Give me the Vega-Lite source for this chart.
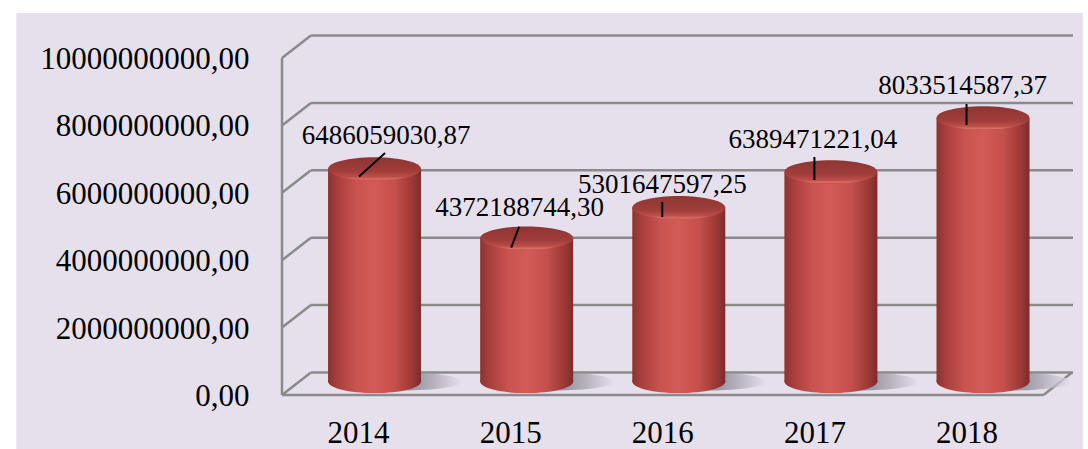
{
  "$schema": "https://vega.github.io/schema/vega-lite/v6.json",
  "width": 801,
  "height": 359,
  "autosize": {"type": "none"},
  "padding": {"left": 277, "top": 36, "right": 10, "bottom": 54},
  "background": "#ffffff",
  "config": {
    "view": {"stroke": null},
    "font": "Liberation Serif",
    "locale": {"number": {"decimal": ",", "thousands": ".", "grouping": [3], "currency": ["", " €"]}}
  },
  "datasets": {
    "bars": [
      {"year": 2014, "v": 6486059030.87},
      {"year": 2015, "v": 4372188744.30},
      {"year": 2016, "v": 5301647597.25},
      {"year": 2017, "v": 6389471221.04},
      {"year": 2018, "v": 8033514587.37}
    ],
    "ticks": [{"v": 0}, {"v": 2000000000}, {"v": 4000000000}, {"v": 6000000000}, {"v": 8000000000}, {"v": 10000000000}]
  },
  "resolve": {"scale": {"y": "independent"}},
  "layer": [
    {
      "data": {"name": "ticks"},
      "layer": [
        {
          "transform": [{"filter": "datum.v == 0"}],
          "mark": {"type": "rect", "fill": "#E6E0EC"},
          "encoding": {
            "x": {"datum": 2011.7537, "type": "quantitative", "scale": {"domain": [2013.5, 2018.7], "nice": false, "zero": false}},
            "x2": {"datum": 2018.7649},
            "y": {"datum": -1602400000, "type": "quantitative", "scale": {"domain": [0, 10653000000], "nice": false, "zero": false}},
            "y2": {"datum": 11335600000}
          }
        },
        {
          "mark": {"type": "rule", "stroke": "#8a8a8a", "strokeWidth": 2.5, "yOffset": -22.5},
          "encoding": {
            "x": {"datum": 2013.69, "type": "quantitative"},
            "x2": {"datum": 2018.7},
            "y": {"field": "v", "type": "quantitative", "scale": {"domain": [0, 10653000000], "nice": false, "zero": false},
              "axis": {"values": [0, 2000000000, 4000000000, 6000000000, 8000000000, 10000000000], "format": ".2f", "title": null, "domain": false, "ticks": false, "tickSize": 0, "grid": false, "labelFont": "Liberation Serif", "labelFontSize": 31, "labelColor": "#000000", "labelPadding": 28, "labelBaseline": "middle", "labelLimit": 0, "labelOffset": 1.5, "zindex": 1}}
          }
        },
        {
          "mark": {"type": "rule", "stroke": "#8a8a8a", "strokeWidth": 2.5, "y2Offset": -22.5},
          "encoding": {
            "x": {"datum": 2013.5, "type": "quantitative"},
            "x2": {"datum": 2013.69},
            "y": {"field": "v", "type": "quantitative", "scale": {"domain": [0, 10653000000], "nice": false, "zero": false}},
            "y2": {"field": "v"}
          }
        },
        {
          "transform": [{"filter": "datum.v == 10000000000"}],
          "mark": {"type": "rule", "stroke": "#8a8a8a", "strokeWidth": 2.5},
          "encoding": {
            "x": {"datum": 2013.5, "type": "quantitative"},
            "y": {"field": "v", "type": "quantitative", "scale": {"domain": [0, 10653000000], "nice": false, "zero": false}},
            "y2": {"datum": 0}
          }
        },
        {
          "transform": [{"filter": "datum.v == 0"}],
          "mark": {"type": "rule", "stroke": "#8a8a8a", "strokeWidth": 2.5},
          "encoding": {
            "x": {"datum": 2013.5, "type": "quantitative"},
            "x2": {"datum": 2018.506},
            "y": {"field": "v", "type": "quantitative", "scale": {"domain": [0, 10653000000], "nice": false, "zero": false}}
          }
        },
        {
          "transform": [{"filter": "datum.v == 0"}],
          "mark": {"type": "rule", "stroke": "#8a8a8a", "strokeWidth": 2.5, "y2Offset": -22.5},
          "encoding": {
            "x": {"datum": 2018.506, "type": "quantitative"},
            "x2": {"datum": 2018.6935},
            "y": {"field": "v", "type": "quantitative", "scale": {"domain": [0, 10653000000], "nice": false, "zero": false}},
            "y2": {"field": "v"}
          }
        }
      ]
    },
    {
      "data": {"name": "bars"},
      "layer": [
        {
          "mark": {"type": "point", "shape": "M-1,0A1,0.15,0,1,0,1,0A1,0.15,0,1,0,-1,0Z", "size": 14400, "filled": true, "opacity": 0.75, "strokeWidth": 0, "xOffset": 44,
            "fill": {"gradient": "radial", "x1": 0.5, "y1": 0.5, "r1": 0, "x2": 0.5, "y2": 0.5, "r2": 0.5, "stops": [{"offset": 0, "color": "#6e6a74"}, {"offset": 0.5, "color": "#a29eaa"}, {"offset": 1, "color": "#e6e0ec"}]}},
          "encoding": {
            "x": {"field": "year", "type": "quantitative"},
            "y": {"datum": 0, "type": "quantitative", "scale": {"domain": [-411600000, 10533400000], "nice": false, "zero": false}, "axis": null}
          }
        },
        {
          "mark": {"type": "point", "shape": "M-1,0A1,0.25,0,1,0,1,0A1,0.25,0,1,0,-1,0Z", "size": 8649, "filled": true, "opacity": 1, "strokeWidth": 0, "xOffset": 16.5,
            "fill": {"gradient": "linear", "x1": 0, "y1": 0, "x2": 1, "y2": 0, "stops": [{"offset": 0, "color": "#8a3331"}, {"offset": 0.1, "color": "#a83f3c"}, {"offset": 0.3, "color": "#c9534f"}, {"offset": 0.5, "color": "#d35b56"}, {"offset": 0.72, "color": "#c44f4b"}, {"offset": 0.9, "color": "#9d3936"}, {"offset": 1, "color": "#7d2c2a"}]}},
          "encoding": {
            "x": {"field": "year", "type": "quantitative"},
            "y": {"datum": 0, "type": "quantitative", "scale": {"domain": [-411600000, 10533400000], "nice": false, "zero": false}, "axis": null}
          }
        },
        {
          "mark": {"type": "bar", "width": 93, "xOffset": 16.5,
            "fill": {"gradient": "linear", "x1": 0, "y1": 0, "x2": 1, "y2": 0, "stops": [{"offset": 0, "color": "#8a3331"}, {"offset": 0.1, "color": "#a83f3c"}, {"offset": 0.3, "color": "#c9534f"}, {"offset": 0.5, "color": "#d35b56"}, {"offset": 0.72, "color": "#c44f4b"}, {"offset": 0.9, "color": "#9d3936"}, {"offset": 1, "color": "#7d2c2a"}]}},
          "encoding": {
            "x": {"field": "year", "type": "quantitative",
              "axis": {"values": [2014, 2015, 2016, 2017, 2018], "format": "d", "title": null, "domain": false, "ticks": false, "tickSize": 0, "grid": false, "labelFont": "Liberation Serif", "labelFontSize": 31, "labelColor": "#000000", "labelPadding": 23.5, "labelLimit": 0, "zindex": 1}},
            "y": {"field": "v", "type": "quantitative", "scale": {"domain": [-411600000, 10533400000], "nice": false, "zero": false}, "axis": null},
            "y2": {"datum": 0}
          }
        },
        {
          "mark": {"type": "point", "shape": "M-1,0A1,0.25,0,1,0,1,0A1,0.25,0,1,0,-1,0Z", "size": 8649, "filled": true, "opacity": 1, "strokeWidth": 0, "xOffset": 16.5,
            "fill": {"gradient": "linear", "x1": 0, "y1": 0, "x2": 0, "y2": 1, "stops": [{"offset": 0, "color": "#8d3634"}, {"offset": 0.6, "color": "#a03d3a"}, {"offset": 0.85, "color": "#bd4e49"}, {"offset": 0.95, "color": "#d86f69"}, {"offset": 1, "color": "#c4524d"}]}},
          "encoding": {
            "x": {"field": "year", "type": "quantitative"},
            "y": {"field": "v", "type": "quantitative", "scale": {"domain": [-411600000, 10533400000], "nice": false, "zero": false}, "axis": null}
          }
        }
      ]
    },
    {
      "data": {"name": "bars"},
      "layer": [
        {
          "transform": [{"filter": "datum.year == 2014"}],
          "mark": {"type": "text", "font": "Liberation Serif", "fontSize": 27, "color": "#000000", "baseline": "middle", "align": "center", "dx": 28, "dy": -40},
          "encoding": {
            "x": {"field": "year", "type": "quantitative"},
            "y": {"field": "v", "type": "quantitative", "scale": {"domain": [0, 10653000000], "nice": false, "zero": false}, "axis": null},
            "text": {"field": "v", "type": "quantitative", "format": ".2f"}
          }
        },
        {
          "transform": [{"filter": "datum.year == 2015"}],
          "mark": {"type": "text", "font": "Liberation Serif", "fontSize": 27, "color": "#000000", "baseline": "middle", "align": "center", "dx": 9.5, "dy": -40},
          "encoding": {
            "x": {"field": "year", "type": "quantitative"},
            "y": {"field": "v", "type": "quantitative", "scale": {"domain": [0, 10653000000], "nice": false, "zero": false}, "axis": null},
            "text": {"field": "v", "type": "quantitative", "format": ".2f"}
          }
        },
        {
          "transform": [{"filter": "datum.year == 2016"}],
          "mark": {"type": "text", "font": "Liberation Serif", "fontSize": 27, "color": "#000000", "baseline": "middle", "align": "center", "dx": 0, "dy": -31.5},
          "encoding": {
            "x": {"field": "year", "type": "quantitative"},
            "y": {"field": "v", "type": "quantitative", "scale": {"domain": [0, 10653000000], "nice": false, "zero": false}, "axis": null},
            "text": {"field": "v", "type": "quantitative", "format": ".2f"}
          }
        },
        {
          "transform": [{"filter": "datum.year == 2017"}],
          "mark": {"type": "text", "font": "Liberation Serif", "fontSize": 27, "color": "#000000", "baseline": "middle", "align": "center", "dx": -1.5, "dy": -40},
          "encoding": {
            "x": {"field": "year", "type": "quantitative"},
            "y": {"field": "v", "type": "quantitative", "scale": {"domain": [0, 10653000000], "nice": false, "zero": false}, "axis": null},
            "text": {"field": "v", "type": "quantitative", "format": ".2f"}
          }
        },
        {
          "transform": [{"filter": "datum.year == 2018"}],
          "mark": {"type": "text", "font": "Liberation Serif", "fontSize": 27, "color": "#000000", "baseline": "middle", "align": "center", "dx": -4, "dy": -38},
          "encoding": {
            "x": {"field": "year", "type": "quantitative"},
            "y": {"field": "v", "type": "quantitative", "scale": {"domain": [0, 10653000000], "nice": false, "zero": false}, "axis": null},
            "text": {"field": "v", "type": "quantitative", "format": ".2f"}
          }
        },
        {
          "transform": [{"filter": "datum.year == 2014"}],
          "mark": {"type": "rule", "stroke": "#000000", "strokeWidth": 2, "xOffset": 1, "x2Offset": 27, "y2Offset": -23.5},
          "encoding": {
            "x": {"field": "year", "type": "quantitative"},
            "x2": {"field": "year"},
            "y": {"field": "v", "type": "quantitative", "scale": {"domain": [0, 10653000000], "nice": false, "zero": false}, "axis": null},
            "y2": {"field": "v"}
          }
        },
        {
          "transform": [{"filter": "datum.year == 2015"}],
          "mark": {"type": "rule", "stroke": "#000000", "strokeWidth": 2, "xOffset": 1, "x2Offset": 9, "y2Offset": -21},
          "encoding": {
            "x": {"field": "year", "type": "quantitative"},
            "x2": {"field": "year"},
            "y": {"field": "v", "type": "quantitative", "scale": {"domain": [0, 10653000000], "nice": false, "zero": false}, "axis": null},
            "y2": {"field": "v"}
          }
        },
        {
          "transform": [{"filter": "datum.year == 2016"}],
          "mark": {"type": "rule", "stroke": "#000000", "strokeWidth": 2, "yOffset": 0.7, "y2Offset": -14.3},
          "encoding": {
            "x": {"field": "year", "type": "quantitative"},
            "y": {"field": "v", "type": "quantitative", "scale": {"domain": [0, 10653000000], "nice": false, "zero": false}, "axis": null},
            "y2": {"field": "v"}
          }
        },
        {
          "transform": [{"filter": "datum.year == 2017"}],
          "mark": {"type": "rule", "stroke": "#000000", "strokeWidth": 2, "yOffset": 0.3, "y2Offset": -22.7},
          "encoding": {
            "x": {"field": "year", "type": "quantitative"},
            "y": {"field": "v", "type": "quantitative", "scale": {"domain": [0, 10653000000], "nice": false, "zero": false}, "axis": null},
            "y2": {"field": "v"}
          }
        },
        {
          "transform": [{"filter": "datum.year == 2018"}],
          "mark": {"type": "rule", "stroke": "#000000", "strokeWidth": 2, "yOffset": 0.7, "y2Offset": -20.3},
          "encoding": {
            "x": {"field": "year", "type": "quantitative"},
            "y": {"field": "v", "type": "quantitative", "scale": {"domain": [0, 10653000000], "nice": false, "zero": false}, "axis": null},
            "y2": {"field": "v"}
          }
        }
      ]
    }
  ]
}
